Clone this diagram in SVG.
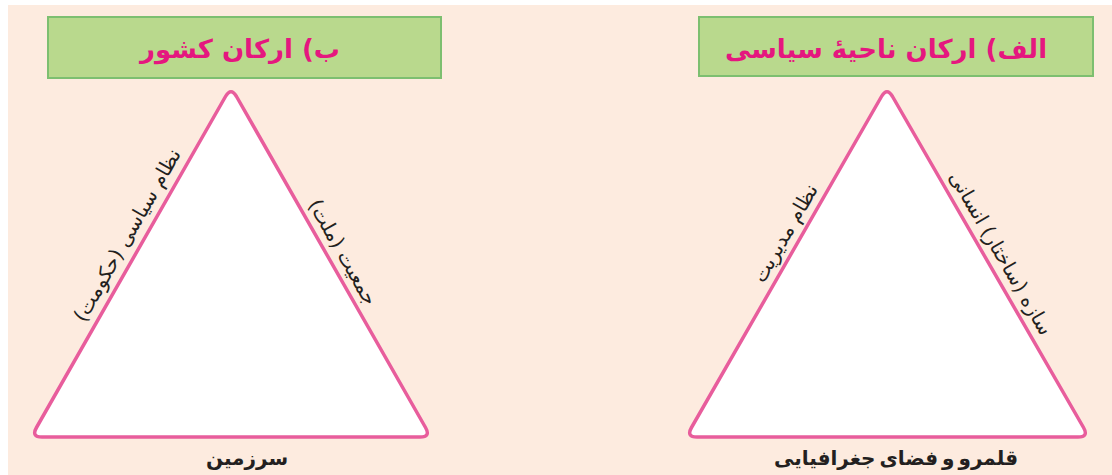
<svg xmlns="http://www.w3.org/2000/svg" width="1112" height="475" viewBox="0 0 1112 475">
<style>
.title{font-family:"DejaVu Sans",sans-serif;font-size:26px;font-weight:bold;fill:#e5177f;text-anchor:middle}
.side{font-family:"DejaVu Sans",sans-serif;font-size:20px;fill:#231f20;text-anchor:middle}
.base{font-family:"DejaVu Sans",sans-serif;font-size:20px;font-weight:bold;fill:#231f20;text-anchor:middle}
.box{fill:#b9d98d;stroke:#7dbf70;stroke-width:2}
.tri{fill:#ffffff;stroke:#e85d9c;stroke-width:3.5;stroke-linejoin:round}
</style>
<rect x="0" y="0" width="1112" height="475" fill="#ffffff"/>
<rect x="8" y="5" width="1104" height="470" fill="#fdebdf"/>
<g id="left-title">
<rect class="box" x="48" y="17" width="393" height="61"/>
<text class="title" x="240" y="58" direction="rtl">ب) ارکان کشور</text>
</g>
<g id="right-title">
<rect class="box" x="699" y="17" width="394" height="59"/>
<text class="title" x="886" y="58" direction="rtl">الف) ارکان ناحیهٔ سیاسی</text>
</g>
<g id="left-triangle">
<path class="tri" d="M236.5,96.5 L425.5,427.5 Q431,437 420,437 L42,437 Q31,437 36.5,427.5 L225.5,96.5 Q231,87 236.5,96.5 Z"/>
<text class="side" transform="translate(127,235) rotate(-60.3)" y="7" direction="rtl">نظام سیاسی (حکومت)</text>
<text class="side" transform="translate(343,252) rotate(60.3)" y="7" direction="rtl">جمعیت (ملت)</text>
<text class="base" x="247" y="465" direction="rtl">سرزمین</text>
</g>
<g id="right-triangle">
<path class="tri" d="M892.5,96.5 L1083.5,427.5 Q1089,437 1078,437 L697,437 Q686,437 691.5,427.5 L881.5,96.5 Q887,87 892.5,96.5 Z"/>
<text class="side" transform="translate(785,233) rotate(-60.1)" y="7" direction="rtl">نظام مدیریت</text>
<text class="side" transform="translate(1001,253) rotate(60)" y="7" direction="rtl">سازه (ساختار) انسانی</text>
<text class="base" x="896" y="465" direction="rtl" word-spacing="-3">قلمرو و فضای جغرافیایی</text>
</g>
<g id="connectors"></g>
</svg>
